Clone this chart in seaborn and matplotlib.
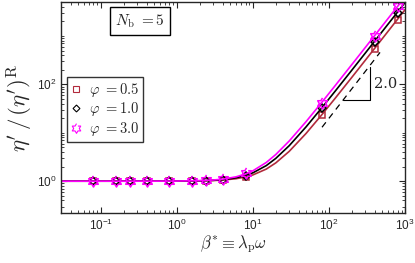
import numpy as np
import pandas as pd
import seaborn as sns
import matplotlib.pyplot as plt
from matplotlib.lines import Line2D
from matplotlib.ticker import LogLocator, FixedLocator, NullFormatter, LogFormatterSciNotation

# marker data (beta*, eta'/eta'_R)
beta_pts = [0.08, 0.16, 0.24, 0.4, 0.8, 1.6, 2.4, 4, 8, 80, 400, 800]
eta_phi05 = [1.0, 1.0, 1.0, 1.0, 1.0, 1.01, 1.02, 1.05, 1.2, 23, 550, 2150]
eta_phi10 = [1.0, 1.0, 1.0, 1.0, 1.0, 1.01, 1.03, 1.07, 1.3, 32, 760, 2950]
eta_phi30 = [1.0, 1.0, 1.0, 1.0, 1.0, 1.02, 1.04, 1.1, 1.5, 42, 1000, 4150]

# model curves
beta_curve = [0.03, 0.1, 0.5, 1, 2, 3, 4, 6, 8, 10, 15, 20, 30, 50, 80, 120, 200, 300, 500, 800, 1000]
curve_phi05 = [1.0, 1.0, 1.001, 1.003, 1.014, 1.031, 1.056, 1.125, 1.223, 1.348, 1.78, 2.39, 4.13,
               9.70, 23.3, 51.1, 140, 314, 871, 2229, 3482]
curve_phi10 = [1.0, 1.0, 1.001, 1.005, 1.02, 1.044, 1.078, 1.176, 1.314, 1.49, 2.10, 2.96, 5.41,
               13.25, 32.4, 71.6, 197, 442, 1226, 3137, 4901]
curve_phi30 = [1.0, 1.0, 1.002, 1.006, 1.026, 1.058, 1.102, 1.23, 1.41, 1.64, 2.44, 3.56, 6.76,
               17.0, 42.0, 93.2, 257, 577, 1601, 4097, 6401]

phi_labels = ["0.5", "1.0", "3.0"]
colors = ["#b22a3c", "black", "#ff00ff"]

sns.set_style("ticks")
plt.rcParams["mathtext.fontset"] = "cm"
plt.rcParams["font.family"] = ["Liberation Sans", "DejaVu Sans"]

# open six-pointed star marker
ang = np.pi / 2 + np.arange(12) * np.pi / 6
rad = np.where(np.arange(12) % 2 == 0, 1.0, 0.58)
hexagram = list(zip(rad * np.cos(ang), rad * np.sin(ang)))
markers = ["s", "D", hexagram]
msizes = [5, 4.5, 8]

fig = plt.figure(figsize=(4.15, 2.63), dpi=100)
ax = fig.add_axes([0.147, 0.19, 0.829, 0.802])

series = [(curve_phi05, eta_phi05), (curve_phi10, eta_phi10), (curve_phi30, eta_phi30)]
handles = []
for (curve, pts), c, m, ms, lab in zip(series, colors, markers, msizes, phi_labels):
    dfc = pd.DataFrame({"beta": beta_curve, "eta": curve})
    sns.lineplot(data=dfc, x="beta", y="eta", color=c, lw=1.2, ax=ax)
    dfp = pd.DataFrame({"beta": beta_pts, "eta": pts})
    sns.lineplot(data=dfp, x="beta", y="eta", color=c, lw=0, marker=m, markersize=ms,
                 markerfacecolor="none", markeredgecolor=c, markeredgewidth=1.1, ax=ax)
    handles.append(Line2D([], [], ls="none", marker=m, markersize=ms - 1, markerfacecolor="none",
                          markeredgecolor=c, markeredgewidth=0.8,
                          label=r"$\varphi\ {=}" + lab + "$"))

ax.set_xscale("log")
ax.set_yscale("log")
ax.set_xlim(0.03, 1000)
ax.set_ylim(0.22, 5000)

# slope guide
ax.plot([81, 469], [13, 457], ls=(0, (5, 4)), color="black", lw=0.9)
ax.plot([153, 346, 346], [46.8, 46.8, 224], color="black", lw=0.8)
ax.text(390, 100, "2.0", fontsize=10.5, family="serif", math_fontfamily="cm", ha="left", va="center")
ax.text(0.23, 0.91, r"$N_{\rm b}\ {=}5$", transform=ax.transAxes, fontsize=11, ha="center", va="center",
        bbox=dict(boxstyle="square,pad=0.35", facecolor="white", edgecolor="black", lw=1))

leg = ax.legend(handles=handles, loc="upper left", bbox_to_anchor=(0.017, 0.645), borderaxespad=0,
                fontsize=10.5, frameon=True, fancybox=False, edgecolor="black", handlelength=0.8,
                handletextpad=0.5, borderpad=0.25, labelspacing=0.12)
leg.get_frame().set_linewidth(1.0)

ax.xaxis.set_major_locator(FixedLocator([0.1, 1, 10, 100, 1000]))
ax.xaxis.set_minor_locator(LogLocator(base=10, subs=np.arange(2, 10), numticks=20))
ax.yaxis.set_major_locator(FixedLocator([1, 100]))
ax.yaxis.set_minor_locator(LogLocator(base=10, subs=np.arange(1, 10), numticks=20))
ax.xaxis.set_major_formatter(LogFormatterSciNotation())
ax.yaxis.set_major_formatter(LogFormatterSciNotation())
ax.yaxis.set_minor_formatter(NullFormatter())
ax.xaxis.set_minor_formatter(NullFormatter())
ax.tick_params(which="both", direction="in", top=True, right=True, labelsize=8.5)
ax.tick_params(which="major", length=4, width=0.8)
ax.tick_params(which="minor", length=2.2, width=0.6)
for s in ax.spines.values():
    s.set_linewidth(1.0)

ax.set_xlabel(r"$\beta^{*} \equiv \lambda_{\rm p}\omega$", fontsize=12, labelpad=0)
ax.set_ylabel(r"$\eta^{\prime}\,/\,(\eta^{\prime})^{\rm R}$", fontsize=16.5, labelpad=1)

fig.savefig("out.png", dpi=100)
